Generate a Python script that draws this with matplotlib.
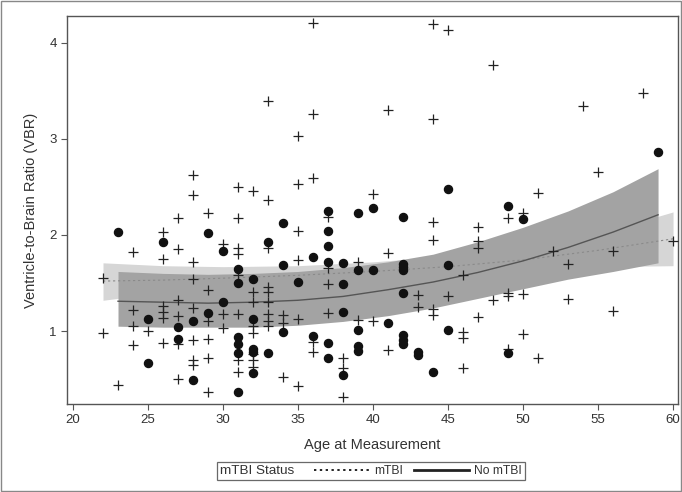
import matplotlib
matplotlib.use("Agg")
import matplotlib.pyplot as plt
from matplotlib.patches import Rectangle
from matplotlib.lines import Line2D
from matplotlib.offsetbox import HPacker

# ---- data: mTBI (plus markers) ----
mtbi_age = [22, 22, 23,
            24, 24, 24, 24, 25,
            26, 26, 26, 26, 26, 26,
            27, 27, 27, 27, 27, 27,
            28, 28, 28, 28, 28, 28, 28, 28,
            29, 29, 29, 29, 29, 29,
            30, 30, 30,
            31, 31, 31, 31, 31, 31, 31, 31,
            32, 32, 32, 32, 32, 32, 32, 32,
            33, 33, 33, 33, 33, 33, 33, 33, 33,
            34, 34, 34,
            35, 35, 35, 35, 35, 35,
            36, 36, 36, 36, 36,
            37, 37, 37, 37,
            38, 38, 38,
            39, 39, 40, 40,
            41, 41, 41,
            43, 43,
            44, 44, 44, 44, 44, 44,
            45, 45,
            46, 46, 46, 46,
            47, 47, 47, 47,
            48, 48,
            49, 49, 49, 49,
            50, 50, 50,
            51, 51, 52, 53, 53, 54, 55, 56, 56, 58, 60]
mtbi_vbr = [0.98, 1.55, 0.44,
            1.82, 1.22, 1.05, 0.85, 1.00,
            2.03, 1.75, 1.26, 1.20, 1.14, 0.87,
            2.18, 1.85, 1.32, 1.16, 0.86, 0.50,
            2.625, 2.42, 1.72, 1.54, 1.24, 0.91, 0.70, 0.65,
            2.23, 1.43, 1.10, 0.92, 0.72, 0.36,
            1.91, 1.18, 1.03,
            2.50, 2.18, 1.86, 1.80, 1.58, 1.18, 0.70, 0.57,
            2.46, 1.41, 1.305, 1.05, 0.98, 0.76, 0.70, 0.63,
            3.39, 2.36, 1.86, 1.455, 1.41, 1.305, 1.18, 1.10, 1.05,
            1.17, 1.08, 0.52,
            3.03, 2.53, 2.045, 1.74, 1.13, 0.43,
            4.21, 3.26, 2.59, 0.89, 0.785,
            2.19, 1.66, 1.49, 1.19,
            0.715, 0.61, 0.31,
            1.72, 1.11, 2.43, 1.10,
            3.30, 1.81, 0.80,
            1.375, 1.25,
            4.20, 3.21, 2.14, 1.95, 1.23, 1.17,
            4.135, 1.36,
            1.58, 0.99, 0.93, 0.62,
            2.08, 1.94, 1.86, 1.15,
            3.77, 1.32,
            2.18, 1.40, 1.36, 0.81,
            2.225, 1.385, 0.97,
            2.435, 0.715, 1.83, 1.70, 1.33, 3.34, 2.66, 1.83, 1.205, 3.48, 1.94]

# ---- data: No mTBI (filled circles) ----
nomtbi_age = [23, 25, 25, 26, 27, 27, 28, 28, 29, 29, 30, 30,
              31, 31, 31, 31, 31, 31,
              32, 32, 32, 32, 32,
              33, 33, 34, 34, 34, 35, 36, 36,
              37, 37, 37, 37, 37, 37,
              38, 38, 38, 38,
              39, 39, 39, 39, 39,
              40, 40, 41,
              42, 42, 42, 42, 42, 42, 42, 42,
              43, 43, 44, 45, 45, 45, 49, 49, 50, 59]
nomtbi_vbr = [2.03, 1.13, 0.67, 1.93, 1.04, 0.92, 1.10, 0.49, 2.02, 1.19, 1.83, 1.30,
              1.65, 1.50, 0.94, 0.86, 0.77, 0.37,
              1.54, 1.13, 0.81, 0.78, 0.56,
              1.93, 0.77, 2.12, 1.69, 0.99, 1.51, 1.77, 0.95,
              2.25, 2.04, 1.88, 1.72, 0.88, 0.715,
              1.705, 1.49, 1.20, 0.54,
              2.23, 1.64, 1.01, 0.84, 0.79,
              2.28, 1.635, 1.08,
              2.19, 1.70, 1.67, 1.635, 1.40, 0.96, 0.91, 0.865,
              0.785, 0.75, 0.57, 2.48, 1.69, 1.01, 2.305, 0.77, 2.165, 2.86]

# ---- fitted curves and confidence bands ----
fit_nomtbi_age = [23, 26, 29, 32, 35, 38, 41, 44, 47, 50, 53, 56, 59]
fit_nomtbi_mean = [1.31, 1.30, 1.29, 1.30, 1.32, 1.36, 1.43, 1.51, 1.61, 1.73, 1.87, 2.03, 2.21]
fit_nomtbi_low = [1.05, 1.04, 1.04, 1.04, 1.06, 1.10, 1.16, 1.24, 1.34, 1.44, 1.54, 1.62, 1.71]
fit_nomtbi_high = [1.62, 1.60, 1.59, 1.60, 1.62, 1.66, 1.72, 1.80, 1.93, 2.08, 2.25, 2.45, 2.69]

fit_mtbi_age = [22, 26, 30, 35, 40, 45, 50, 55, 60]
fit_mtbi_mean = [1.52, 1.53, 1.55, 1.58, 1.62, 1.67, 1.74, 1.84, 1.96]
fit_mtbi_low = [1.32, 1.40, 1.45, 1.48, 1.52, 1.56, 1.61, 1.67, 1.68]
fit_mtbi_high = [1.71, 1.68, 1.67, 1.68, 1.72, 1.78, 1.87, 2.01, 2.24]

x_ticks = [20, 25, 30, 35, 40, 45, 50, 55, 60]
y_ticks = [1, 2, 3, 4]

plt.rcParams['font.family'] = ['Liberation Sans', 'DejaVu Sans']
text_col = '#333333'

fig = plt.figure(figsize=(6.82, 4.92), dpi=100)
ax = fig.add_axes([67/682, 1-404/492, (678-67)/682, (404-16)/492])

ax.fill_between(fit_mtbi_age, fit_mtbi_low, fit_mtbi_high, color='#d6d6d6', lw=0, zorder=1)
ax.fill_between(fit_nomtbi_age, fit_nomtbi_low, fit_nomtbi_high, color='#a3a3a3', lw=0, zorder=2)
ax.plot(fit_mtbi_age, fit_mtbi_mean, color='#8a8a8a', lw=0.8, ls=(0, (2, 2.5)), zorder=3)
ax.plot(fit_nomtbi_age, fit_nomtbi_mean, color='#555555', lw=1.0, zorder=3)

ax.plot(mtbi_age, mtbi_vbr, ls='none', marker='+', ms=7, mew=0.9, color='#222222', zorder=4)
ax.plot(nomtbi_age, nomtbi_vbr, ls='none', marker='o', ms=5.8, color='#111111', mec='#111111', zorder=4)

ax.set_xlim(19.6, 60.33)
ax.set_ylim(0.24, 4.28)
ax.set_xticks(x_ticks)
ax.set_yticks(y_ticks)
ax.tick_params(direction='out', length=4, width=0.8, colors='#555555', labelcolor=text_col, labelsize=9.5)
for s in ax.spines.values():
    s.set_color('#555555')
    s.set_linewidth(1.0)

ax.set_xlabel('Age at Measurement', fontsize=10.5, color=text_col, labelpad=8)
ax.set_ylabel('Ventricle-to-Brain Ratio (VBR)', fontsize=10.5, color=text_col, labelpad=8)

# legend with inline title
handles = [Line2D([], [], color='#222222', lw=1.4, ls=(0, (1.2, 1.8))),
           Line2D([], [], color='#222222', lw=2.0)]
leg = fig.legend(handles, ['mTBI', 'No mTBI'], loc='center', bbox_to_anchor=(371/682, 1-471/492),
                 ncol=2, frameon=True, fontsize=8.7, title='mTBI Status', handlelength=4.6,
                 borderpad=0.25, columnspacing=0.9, handletextpad=0.4, fancybox=False,
                 title_fontsize=9.7)
lb = leg._legend_box
new_box = HPacker(pad=lb.pad, sep=14, align='center', children=lb.get_children())
new_box.set_figure(fig)
new_box.axes = None
new_box.set_offset(leg._findoffset)
leg._legend_box = new_box
leg.get_frame().set_edgecolor('#444444')
leg.get_frame().set_linewidth(0.9)
for t in leg.get_texts():
    t.set_color(text_col)
leg.get_title().set_color(text_col)

fig.patches.append(Rectangle((0.002, 0.002), 0.996, 0.996, transform=fig.transFigure,
                             fill=False, edgecolor='#888888', lw=1.0))

fig.savefig('out.png', dpi=100)
